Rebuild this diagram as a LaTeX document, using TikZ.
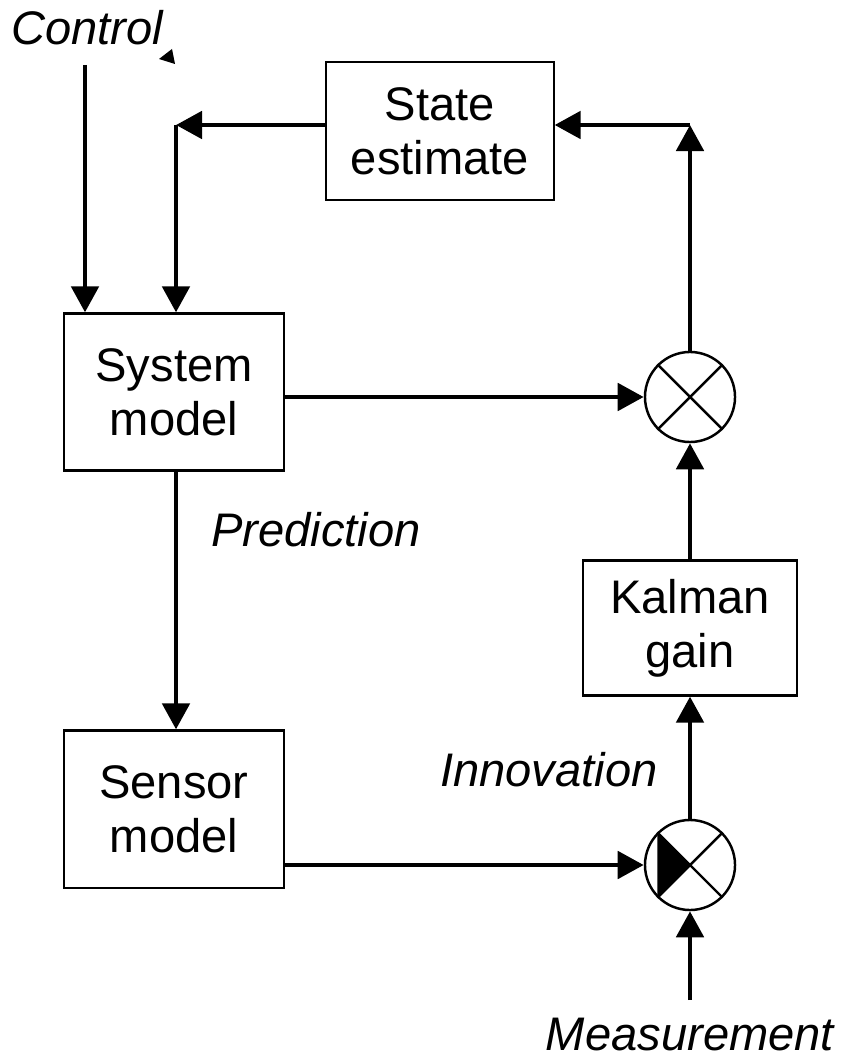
\documentclass[tikz,border=0pt]{standalone}
\usepackage{fontspec}
\setmainfont{Liberation Sans}
\usetikzlibrary{arrows.meta}

\begin{document}
\begin{tikzpicture}[x=0.01cm,y=-0.01cm,
  font=\fontsize{13.4}{15.4}\selectfont,
  block/.style={draw,line width=0.6pt,align=center,inner sep=0pt},
  mixer/.style={draw,circle,line width=0.7pt,minimum size=0.9cm,inner sep=0pt},
  flow/.style={line width=1.4pt,-{Triangle[length=0.26cm,width=0.27cm]}},
  lbl/.style={font=\fontsize{13.4}{15.4}\selectfont\itshape}]
\useasboundingbox (0,0) rectangle (843,1061);

% Blocks
\node[block,minimum width=2.27cm,minimum height=1.38cm] (state) at (440,131) {State\\estimate};
\node[block,minimum width=2.19cm,minimum height=1.57cm] (sys) at (174,392) {System\\model};
\node[block,minimum width=2.19cm,minimum height=1.57cm] (sens) at (174,809) {Sensor\\model};
\node[block,minimum width=2.14cm,minimum height=1.35cm] (kal) at (690,628) {Kalman\\gain};

% Mixers
\node[mixer] (mix1) at (690,397) {};
\node[mixer] (mix2) at (690,865) {};
\draw[line width=0.7pt] (mix1.north west) -- (mix1.south east)
  (mix1.north east) -- (mix1.south west);
\draw[line width=0.7pt] (mix2.north west) -- (mix2.south east)
  (mix2.north east) -- (mix2.south west);
\fill (mix2.north west) -- (mix2.center) -- (mix2.south west) -- cycle;

% Free ends
\coordinate (ctrl) at (85,65);
\coordinate (fb) at (176,125);
\coordinate (up) at (690,125);
\coordinate (meas) at (690,1000);

% Labels
\node[lbl] (lctrl) at (87,28) {Control};
\node[lbl] (lpred) at (316,530) {Prediction};
\node[lbl] (linno) at (549,770) {Innovation};
\node[lbl] (lmeas) at (690,1035) {Measurement};

% Stray tip under the control label
\fill (159,59) -- (172,49) -- (175,64) -- cycle;

% Connectors
\draw[flow] (ctrl) -- (sys.north -| ctrl);
\draw[flow] (state.west |- fb) -- (fb);
\draw[flow] (fb) -- (sys.north -| fb);
\draw[flow] (mix1.north) -- (up);
\draw[flow] (up) -- (state.east |- up);
\draw[flow] (sys.east |- mix1) -- (mix1.west);
\draw[flow] (sys.south -| fb) -- (sens.north -| fb);
\draw[flow] (kal.north) -- (mix1.south);
\draw[flow] (sens.east |- mix2) -- (mix2.west);
\draw[flow] (mix2.north) -- (kal.south);
\draw[flow] (meas) -- (mix2.south);
\end{tikzpicture}
\end{document}
